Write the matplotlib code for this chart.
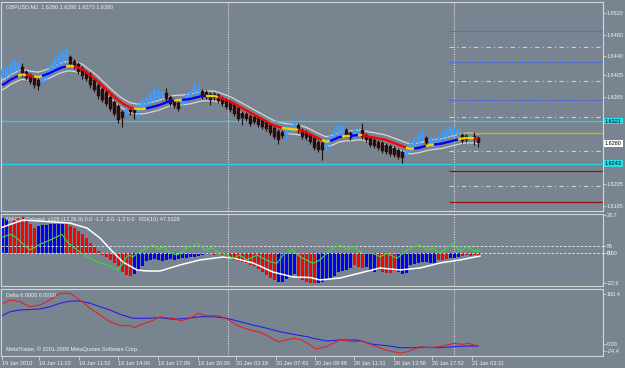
import matplotlib
matplotlib.use("Agg")
import matplotlib.pyplot as plt
from matplotlib.collections import LineCollection
import numpy as np

plt.rcParams["font.family"] = ["Liberation Sans", "DejaVu Sans"]

W, H = 625, 368
BG = "#788591"
FG = "#f0f0f0"
FRAME = "#d4d4d4"
FS = 4.0

# ---- price pane data (GBPUSD, M2) ----
OPEN = [1.6402, 1.6404, 1.6410, 1.6415, 1.6415, 1.6421, 1.6411, 1.6406, 1.6400, 1.6397,
        1.6393, 1.6400, 1.6408, 1.6415, 1.6423, 1.6430, 1.6434, 1.6439, 1.6432, 1.6426,
        1.6419, 1.6411, 1.6408, 1.6397, 1.6388, 1.6380, 1.6375, 1.6365, 1.6356, 1.6349,
        1.6338, 1.6334, 1.6342, 1.6342, 1.6340, 1.6347, 1.6351, 1.6356, 1.6360, 1.6364,
        1.6365, 1.6373, 1.6365, 1.6360, 1.6354, 1.6353, 1.6358, 1.6365, 1.6373, 1.6375,
        1.6376, 1.6375, 1.6371, 1.6371, 1.6369, 1.6364, 1.6360, 1.6356, 1.6353, 1.6345,
        1.6336, 1.6334, 1.6331, 1.6329, 1.6327, 1.6323, 1.6319, 1.6314, 1.6308, 1.6303,
        1.6301, 1.6297, 1.6303, 1.6308, 1.6314, 1.6305, 1.6301, 1.6296, 1.6290, 1.6283,
        1.6281, 1.6272, 1.6281, 1.6290, 1.6297, 1.6299, 1.6305, 1.6299, 1.6294, 1.6296,
        1.6305, 1.6296, 1.6290, 1.6286, 1.6283, 1.6281, 1.6277, 1.6275, 1.6272, 1.6268,
        1.6264, 1.6259, 1.6268, 1.6273, 1.6281, 1.6288, 1.6290, 1.6279, 1.6277, 1.6281,
        1.6290, 1.6292, 1.6295, 1.6297, 1.6294, 1.6296, 1.6294, 1.6290, 1.6294, 1.6290]
CLOSE = [1.6415, 1.6417, 1.6423, 1.6430, 1.6426, 1.6408, 1.6400, 1.6393, 1.6388, 1.6386,
         1.6404, 1.6411, 1.6423, 1.6434, 1.6441, 1.6446, 1.6452, 1.6426, 1.6421, 1.6411,
         1.6404, 1.6399, 1.6388, 1.6378, 1.6367, 1.6360, 1.6353, 1.6343, 1.6334, 1.6323,
         1.6327, 1.6343, 1.6338, 1.6336, 1.6351, 1.6358, 1.6364, 1.6371, 1.6378, 1.6376,
         1.6375, 1.6362, 1.6353, 1.6349, 1.6343, 1.6362, 1.6369, 1.6375, 1.6384, 1.6382,
         1.6367, 1.6365, 1.6360, 1.6364, 1.6358, 1.6353, 1.6347, 1.6342, 1.6334, 1.6325,
         1.6327, 1.6325, 1.6316, 1.6319, 1.6314, 1.6310, 1.6307, 1.6299, 1.6292, 1.6286,
         1.6294, 1.6308, 1.6312, 1.6319, 1.6303, 1.6292, 1.6290, 1.6283, 1.6272, 1.6268,
         1.6268, 1.6288, 1.6294, 1.6303, 1.6312, 1.6312, 1.6296, 1.6290, 1.6305, 1.6303,
         1.6292, 1.6286, 1.6277, 1.6275, 1.6272, 1.6266, 1.6264, 1.6261, 1.6259, 1.6255,
         1.6253, 1.6270, 1.6279, 1.6286, 1.6296, 1.6301, 1.6281, 1.6290, 1.6286, 1.6292,
         1.6301, 1.6305, 1.6310, 1.6306, 1.6305, 1.6284, 1.6286, 1.6294, 1.6288, 1.6280]
HIGH = [1.6421, 1.6422, 1.6430, 1.6437, 1.6432, 1.6428, 1.6415, 1.6410, 1.6404, 1.6400,
        1.6408, 1.6415, 1.6426, 1.6439, 1.6448, 1.6452, 1.6457, 1.6443, 1.6435, 1.6430,
        1.6423, 1.6415, 1.6411, 1.6400, 1.6391, 1.6384, 1.6378, 1.6369, 1.6360, 1.6352,
        1.6342, 1.6347, 1.6345, 1.6345, 1.6354, 1.6362, 1.6367, 1.6375, 1.6386, 1.6380,
        1.6378, 1.6382, 1.6369, 1.6364, 1.6358, 1.6365, 1.6373, 1.6378, 1.6393, 1.6386,
        1.6380, 1.6378, 1.6375, 1.6375, 1.6373, 1.6367, 1.6364, 1.6360, 1.6356, 1.6349,
        1.6340, 1.6338, 1.6334, 1.6332, 1.6331, 1.6327, 1.6323, 1.6318, 1.6312, 1.6307,
        1.6305, 1.6312, 1.6316, 1.6323, 1.6318, 1.6308, 1.6305, 1.6299, 1.6294, 1.6286,
        1.6285, 1.6292, 1.6297, 1.6307, 1.6319, 1.6316, 1.6308, 1.6303, 1.6308, 1.6307,
        1.6318, 1.6299, 1.6294, 1.6290, 1.6286, 1.6285, 1.6281, 1.6279, 1.6275, 1.6272,
        1.6268, 1.6273, 1.6283, 1.6290, 1.6299, 1.6308, 1.6294, 1.6294, 1.6290, 1.6295,
        1.6305, 1.6308, 1.6314, 1.6310, 1.6308, 1.6299, 1.6297, 1.6297, 1.6301, 1.6294]
LOW = [1.6399, 1.6400, 1.6404, 1.6411, 1.6411, 1.6402, 1.6397, 1.6389, 1.6382, 1.6378,
       1.6389, 1.6397, 1.6404, 1.6411, 1.6419, 1.6426, 1.6430, 1.6423, 1.6417, 1.6408,
       1.6399, 1.6395, 1.6382, 1.6375, 1.6362, 1.6356, 1.6349, 1.6340, 1.6331, 1.6318,
       1.6310, 1.6329, 1.6332, 1.6325, 1.6325, 1.6343, 1.6347, 1.6353, 1.6356, 1.6360,
       1.6362, 1.6358, 1.6349, 1.6345, 1.6340, 1.6349, 1.6354, 1.6362, 1.6369, 1.6371,
       1.6362, 1.6362, 1.6351, 1.6360, 1.6354, 1.6349, 1.6343, 1.6338, 1.6331, 1.6321,
       1.6314, 1.6321, 1.6312, 1.6316, 1.6310, 1.6307, 1.6303, 1.6296, 1.6288, 1.6279,
       1.6290, 1.6286, 1.6299, 1.6305, 1.6299, 1.6288, 1.6286, 1.6279, 1.6268, 1.6264,
       1.6250, 1.6264, 1.6277, 1.6286, 1.6294, 1.6296, 1.6292, 1.6286, 1.6290, 1.6292,
       1.6288, 1.6283, 1.6273, 1.6272, 1.6268, 1.6262, 1.6260, 1.6257, 1.6255, 1.6251,
       1.6244, 1.6255, 1.6264, 1.6270, 1.6277, 1.6284, 1.6277, 1.6275, 1.6273, 1.6277,
       1.6286, 1.6288, 1.6292, 1.6294, 1.6290, 1.6281, 1.6283, 1.6286, 1.6277, 1.6273]

MA = [1.63875, 1.63912, 1.63967, 1.64004, 1.64041, 1.64068, 1.64059, 1.64041, 1.64031, 1.64022,
      1.64041, 1.64068, 1.64096, 1.64133, 1.64169, 1.64197, 1.64215, 1.64225, 1.64215, 1.64197,
      1.64169, 1.64114, 1.64059, 1.64004, 1.63939, 1.63866, 1.63801, 1.63728, 1.63663, 1.63599,
      1.63544, 1.63498, 1.63461, 1.63443, 1.63433, 1.63433, 1.63443, 1.63461, 1.63479, 1.63498,
      1.63525, 1.63553, 1.63581, 1.63590, 1.63599, 1.63599, 1.63608, 1.63617, 1.63636, 1.63654,
      1.63673, 1.63673, 1.63673, 1.63673, 1.63654, 1.63627, 1.63599, 1.63571, 1.63535, 1.63492,
      1.63452, 1.63411, 1.63371, 1.63332, 1.63290, 1.63250, 1.63209, 1.63168, 1.63133, 1.63106,
      1.63087, 1.63076, 1.63065, 1.63060, 1.63051, 1.63029, 1.63007, 1.62973, 1.62933, 1.62896,
      1.62863, 1.62835, 1.62845, 1.62872, 1.62909, 1.62927, 1.62937, 1.62937, 1.62946, 1.62955,
      1.62955, 1.62937, 1.62918, 1.62909, 1.62891, 1.62881, 1.62863, 1.62835, 1.62808, 1.62780,
      1.62753, 1.62725, 1.62697, 1.62707, 1.62716, 1.62734, 1.62753, 1.62771, 1.62780, 1.62789,
      1.62799, 1.62817, 1.62835, 1.62854, 1.62872, 1.62891, 1.62900, 1.62900, 1.62900, 1.62881]
# b = rising (blue), r = falling (red), y = turning (yellow)
MA_STATE = ("bbbbbyyrryybbbbbbyy"
            "rrrrrrrrrrrrrrr"
            "yyybbbbbbbyy"
            "bbbbbbyyy"
            "rrrrrrrrrrrrrrrr"
            "yyyyrrrrrryy"
            "bbbyybbyrrrrrrrrrrr"
            "yybbbyybbbbbbyyyyr")
BAND = 0.0009

CYAN_LEVELS = [1.6321, 1.6243]
BLUE_LEVELS = [1.6487, 1.6429, 1.6360]
GRAY_LEVELS = [1.6458, 1.6394, 1.6329, 1.6266, 1.6202]
YELLOW_LEVEL = 1.6300
DARKRED_LEVELS = [1.6230, 1.6172]
LEVEL_START = 111.75
VLINES = [56.5, 113]

PRICE_TICKS = [1.6520, 1.6480, 1.6440, 1.6405, 1.6365, 1.6205, 1.6165]
LAST_PRICE = 1.6280

# ---- MACD / RSI pane ----
HIST = [26.4, 25.7, 21.9, 24.9, 26.4, 27.2, 25.7, 21.9, 18.8, 20.4,
        21.1, 21.1, 21.9, 21.9, 21.9, 21.9, 21.9, 20.4, 18.8, 16.6,
        14.3, 11.2, 7.5, 4.4, 1.4, -1.7, -3.2, -5.4, -7.7, -10.0,
        -14.6, -16.8, -17.6, -16.1, -13.8, -10.0, -6.2, -5.4, -4.7, -5.4,
        -6.2, -5.4, -4.7, -5.4, -4.7, -3.9, -3.9, -3.2, -3.2, -2.4,
        -1.7, -0.9, -0.9, -1.7, -0.9, -1.7, -3.2, -3.9, -5.4, -6.2,
        -7.0, -7.7, -9.2, -10.0, -12.3, -14.6, -16.8, -19.1, -20.6, -22.1,
        -22.1, -19.9, -17.6, -16.1, -18.3, -20.6, -22.1, -22.9, -22.9, -22.9,
        -22.1, -20.6, -19.1, -17.6, -14.6, -13.8, -13.0, -11.5, -9.2, -10.8,
        -11.5, -10.8, -13.0, -14.6, -13.0, -14.6, -15.3, -15.3, -13.8, -14.6,
        -16.1, -15.3, -9.2, -8.5, -7.7, -7.0, -7.0, -7.7, -7.7, -5.4,
        -5.4, -4.7, -3.9, -3.9, -3.2, -2.4, -1.7, -2.4, -1.7, -3.2]
HIST_STATE = ("bb" "rrrrrrr" "bbbbbbb" "rrrrrrrrrrrrrrrrr"
              "bbbbbbbbbbbbbbbbbb" "rrrrrrrrrrrrrrrrrr" "bbbbb" "rrrrr"
              "bbbbbbbbb" "rrr" "bbb" "rrrrr" "bbbbbbbbbb" "rrr" "bbb" "rrrrr")
SIG_X = [-0.5, 5.25, 17, 21.25, 24.5, 27.75, 30.25, 33.75, 36.25, 39.5, 44.5, 49.5, 55.25,
         57.75, 62.75, 67.75, 72.75, 77, 79.5, 84.5, 89.5, 94.5, 99.5, 104.5, 109.5, 114.5, 119.5]
SIG_Y = [18.8, 24.9, 22.6, 18.8, 11.2, 0.6, -7.0, -13.0, -13.8, -13.8, -9.2, -5.4, -3.2,
         -3.9, -7.7, -14.6, -18.3, -18.7, -20.6, -19.1, -15.3, -11.5, -13.0, -11.5, -7.7, -5.4, -2.4]
RSI_X = [-0.5, 2, 3.25, 7, 9.5, 12, 15, 16.25, 18.75, 21.25, 23.75, 26.25, 29, 30.25, 31.5,
         32.75, 33.75, 35.25, 37.75, 39, 40.25, 41.5, 43.75, 46.25, 49, 50.75, 52.5, 53.75,
         56.25, 57.75, 59.5, 61.25, 63.75, 65.25, 67, 68.75, 70.25, 72.5, 74.5, 77.75, 79.5,
         82, 84.5, 86.25, 87.75, 90.25, 92.75, 94.5, 96.25, 98.75, 101.25, 104.5, 106.25,
         107.75, 109.5, 112.75, 114.5, 116.25, 117.75, 119.5]
RSI_Y = [60.4, 63.2, 61.5, 52.0, 56.1, 59.1, 63.2, 57.9, 52.0, 47.2, 43.6, 41.3, 37.7, 42.5, 48.4,
         47.2, 49.6, 52.0, 55.6, 52.0, 54.4, 50.8, 48.4, 53.2, 56.8, 52.0, 53.6, 50.8,
         48.4, 46.1, 48.4, 44.9, 48.4, 46.1, 43.6, 42.5, 48.4, 52.0, 47.2, 42.5, 44.9,
         52.0, 55.6, 52.0, 54.4, 49.6, 49.6, 47.2, 49.6, 46.1, 52.0, 55.6, 52.0,
         53.2, 49.6, 56.8, 51.3, 54.4, 51.5, 51.5]
RSI_LEVELS = [55, 50]

# ---- Delta pane ----
DRED_X = [-0.5, 2, 4.5, 7, 9.5, 12, 14.5, 17, 19.5, 22, 24.5, 27, 29.5, 32, 33, 35, 38, 39.5,
          41, 43, 44.5, 47, 49, 51, 54, 56, 58, 59.5, 62, 64, 66, 69, 71, 73, 75, 77, 78.5,
          81, 84.5, 88, 90, 93, 96, 99.5, 102, 104.5, 107, 109.5, 113, 115, 116.5, 119]
DRED_Y = [126.4, 142.6, 137.1, 120.8, 126.4, 142.6, 164.3, 164.3, 142.6, 115.7, 93.9, 72.2,
          59.3, 59.3, 52.8, 63.8, 77.7, 88.5, 85.2, 83.2, 74.5, 83.2, 99.4, 91.7, 91.7, 83.2,
          67.0, 56.0, 45.3, 39.8, 29.1, 7.4, 12.9, 18.4, 12.9, -3.3, -16.3, -8.8, 12.9, 7.4,
          9.6, -5.6, -19.5, -30.2, -22.8, -8.8, -12.1, -8.8, 2.2, -1.1, 2.2, -6.6]
DBLUE_X = [-0.5, 2, 4.5, 9.5, 12, 14.5, 17, 19.5, 22, 24.5, 27, 29.5, 32.75, 36.25, 39.5,
           42.75, 46.25, 49.5, 52.75, 56.25, 59.5, 62.75, 66.25, 69.5, 72.75, 76.25, 77.75,
           81.25, 84.5, 88.75, 92.75, 96.25, 99.5, 102.75, 106.25, 109.5, 112.75, 116.25, 119]
DBLUE_Y = [88.5, 104.6, 110.1, 113.4, 120.8, 131.9, 139.3, 139.3, 131.9, 120.8, 110.1, 96.2,
           83.2, 83.2, 85.2, 80.0, 83.2, 88.5, 88.5, 83.2, 72.2, 61.5, 50.8, 39.8, 31.4, 23.6,
           18.4, 9.6, 12.9, 12.9, -1.1, -5.6, -12.1, -12.1, -10.8, -12.1, -8.8, -6.6, -6.6]

TIME_POS = [0, 9.25, 19.25, 29, 39, 49, 58.5, 68.5, 78.25, 88, 98, 107.5, 117.5]
TIME_LABELS = ["19 Jan 2010", "19 Jan 11:10", "19 Jan 11:52", "19 Jan 14:00", "19 Jan 17:09",
               "19 Jan 20:00", "20 Jan 03:18", "20 Jan 07:43", "20 Jan 09:48", "20 Jan 11:31",
               "20 Jan 13:56", "20 Jan 17:52", "21 Jan 03:31"]


def rect(x0, y0, x1, y1):
    return [x0 / W, 1 - y1 / H, (x1 - x0) / W, (y1 - y0) / H]


def right_ticks(a):
    a.yaxis.tick_right()
    a.tick_params(axis="y", colors=FRAME, labelcolor=FG, labelsize=FS, length=1.8,
                  width=0.6, pad=0.8)


def style(a):
    a.set_facecolor(BG)
    for s in a.spines.values():
        s.set_color(FRAME)
        s.set_linewidth(0.8)
    right_ticks(a)
    a.tick_params(axis="x", bottom=False, labelbottom=False)
    for v in VLINES:
        a.axvline(v, color="#d8d8d8", lw=0.8, ls=(0, (1, 1.2)), zorder=1)


def tag(a, y, text, fc):
    a.text(1.003, y, text, transform=a.get_yaxis_transform(), ha="left", va="center",
           fontsize=FS, color="black", clip_on=False, zorder=10,
           bbox=dict(boxstyle="square,pad=0.15", fc=fc, ec="none"))


fig = plt.figure(figsize=(W / 100, H / 100), dpi=100, facecolor=BG)
ax = fig.add_axes(rect(1, 2, 603, 211))
axm = fig.add_axes(rect(1, 214, 603, 286), sharex=ax)
axd = fig.add_axes(rect(1, 289, 603, 356), sharex=ax)
for a in (ax, axm, axd):
    style(a)
ax.set_xlim(-0.25, 150.25)

# ---- price pane ----
idx = np.arange(len(CLOSE))
o, c, hi, lo = map(np.array, (OPEN, CLOSE, HIGH, LOW))
ma = np.array(MA)
up = c >= o

ax.plot(idx, ma + BAND, color="#d6d6d6", lw=0.9, zorder=2)
ax.plot(idx, ma - BAND, color="#d6d6d6", lw=0.9, zorder=2)

ax.vlines(idx[up], lo[up], hi[up], color="#3d9cff", lw=0.8, zorder=3)
ax.vlines(idx[~up], lo[~up], hi[~up], color="#1c1010", lw=0.8, zorder=3)
ax.bar(idx[up], c[up] - o[up], bottom=o[up], width=0.75, color="#3d9cff",
       edgecolor="#3d9cff", lw=0.3, zorder=3)
ax.bar(idx[~up], c[~up] - o[~up], bottom=o[~up], width=0.75, color="#2e0c0c",
       edgecolor="#2e0c0c", lw=0.3, zorder=3)

ma_colors = {"b": "#0000ff", "r": "#ff0000", "y": "#f0d000"}
segs = [[(idx[i], ma[i]), (idx[i + 1], ma[i + 1])] for i in range(len(ma) - 1)]
cols = [ma_colors[MA_STATE[i + 1]] for i in range(len(ma) - 1)]
ax.add_collection(LineCollection(segs, colors=cols, linewidths=1.7, zorder=4,
                                 capstyle="butt"))

for lv in CYAN_LEVELS:
    ax.axhline(lv, color="#25d5dc", lw=0.9, zorder=2)
ax.hlines(BLUE_LEVELS, LEVEL_START, 150.25, color="#3a5cf0", lw=0.9, ls=(0, (1, 1)))
ax.hlines(GRAY_LEVELS, LEVEL_START, 150.25, color="#cfcfcf", lw=0.8, ls=(0, (4, 3, 1, 3)))
ax.hlines([YELLOW_LEVEL], LEVEL_START, 150.25, color="#c8b400", lw=1.0)
ax.hlines(DARKRED_LEVELS, LEVEL_START, 150.25, color="#8a1414", lw=0.9)

ax.set_ylim(1.61557, 1.65402)
ax.set_yticks(PRICE_TICKS)
ax.set_yticklabels([f"{v:.4f}" for v in PRICE_TICKS])
tag(ax, CYAN_LEVELS[0], f"{CYAN_LEVELS[0]:.4f}", "#25e0e8")
tag(ax, LAST_PRICE, f"{LAST_PRICE:.4f}", "white")
tag(ax, CYAN_LEVELS[1], f"{CYAN_LEVELS[1]:.4f}", "#25e0e8")
ax.text(0.008, 0.975, "GBPUSD,M2  1.6280 1.6286 1.6273 1.6280", transform=ax.transAxes,
        fontsize=FS, color=FG, va="center", ha="left")

# ---- MACD pane (RSI drawn on a twin scale) ----
axr = axm.twinx()
right_ticks(axm)
right_ticks(axr)
for s in axr.spines.values():
    s.set_visible(False)

hist = np.array(HIST)
hcols = ["#0000ff" if s == "b" else "#ff0000" for s in HIST_STATE]
axm.bar(idx, hist, width=0.75, color=hcols, lw=0, zorder=2)
axm.plot(SIG_X, SIG_Y, color="white", lw=1.1, zorder=4)
axm.set_ylim(-25.17, 29.46)
axm.set_yticks([28.7, 0, -22.9])
axm.set_yticklabels(["28.7", "0.00", "-22.9"])

axr.set_ylim(26.3, 77.7)
axr.plot(RSI_X, RSI_Y, color="#33e033", lw=0.8, zorder=5)
for lv in RSI_LEVELS:
    axr.axhline(lv, color="#e8e8e8", lw=0.6, ls=(0, (3, 2)), zorder=3)
axr.set_yticks(RSI_LEVELS)
axr.set_yticklabels([str(v) for v in RSI_LEVELS])
axr.text(0.008, 0.93, "MACD_Colored_v105 (12,26,9) 0.0 -1.2 -2.0 -1.2 0.0   RSI(10) 47.5326",
         transform=axr.transAxes, fontsize=FS, color=FG, va="center", ha="left", zorder=6)

# ---- Delta pane ----
axd.plot(DBLUE_X, DBLUE_Y, color="#2222e6", lw=0.8)
axd.plot(DRED_X, DRED_Y, color="#e62020", lw=0.8)
axd.set_ylim(-39.0, 178.2)
axd.set_yticks([160.4, 0, -24.4])
axd.set_yticklabels(["160.4", "0.00", "-24.4"])
axd.text(0.008, 0.9, "Delta 6.0000 6.0000", transform=axd.transAxes, fontsize=FS,
         color=FG, va="center", ha="left")
axd.text(0.008, 0.1, "MetaTrader, \u00a9 2001-2009 MetaQuotes Software Corp.",
         transform=axd.transAxes, fontsize=FS, color=FG, va="center", ha="left")

axd.set_xticks(TIME_POS)
axd.tick_params(axis="x", bottom=True, labelbottom=True, colors=FRAME, labelcolor=FG,
                labelsize=FS, length=3, width=0.6, pad=0.8)
axd.set_xticklabels(TIME_LABELS, ha="left")

fig.savefig("out.png", dpi=100, facecolor=BG)
